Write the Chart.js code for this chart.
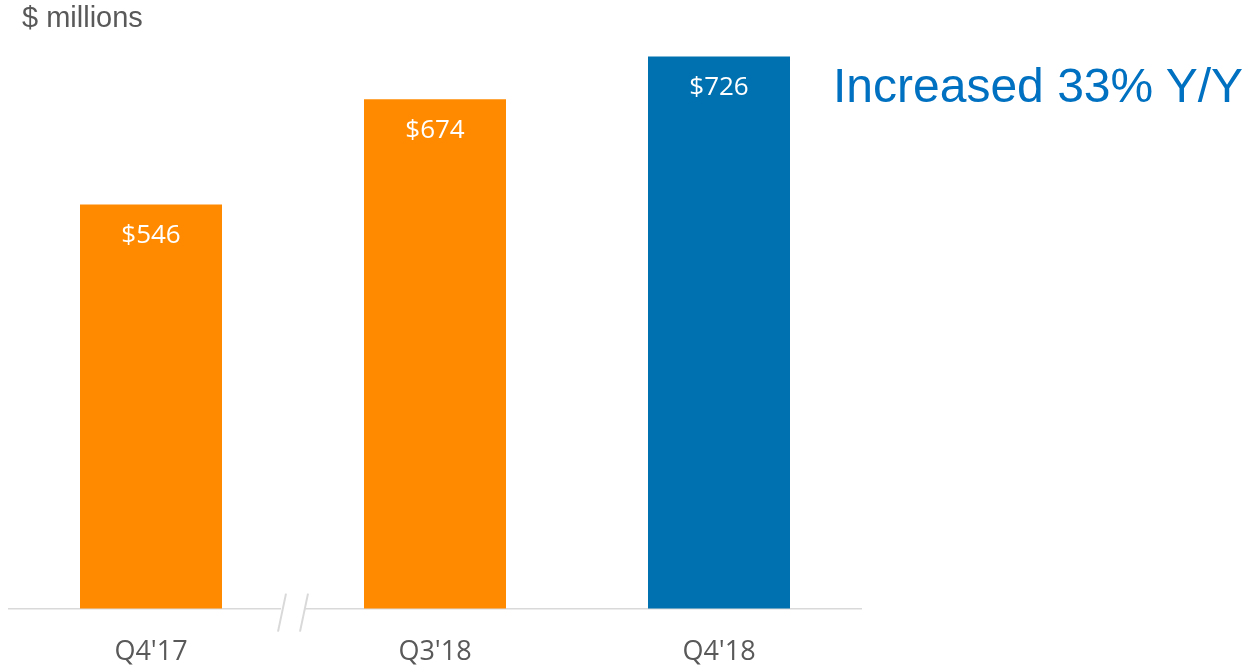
<!DOCTYPE html>
<html>
<head>
<meta charset="utf-8">
<script src="https://cdn.jsdelivr.net/npm/chart.js@4"></script>
<style>
  html, body { margin: 0; padding: 0; background: #fff; }
  #wrap { position: relative; width: 1256px; height: 666px; }
  #units { position: absolute; left: 22px; top: 1px; font: 29px "Liberation Sans", Arial, sans-serif; color: #595959; }
  #note { position: absolute; left: 833px; top: 58px; font: 48px "Liberation Sans", Arial, sans-serif; color: #0070C0; white-space: nowrap; }
</style>
</head>
<body>
<div id="wrap">
  <canvas id="revenue" width="1256" height="666"></canvas>
  <div id="units">$ millions</div>
  <div id="note">Increased 33% Y/Y</div>
</div>
<script>
const quarters = ["Q4'17", "Q3'18", "Q4'18"];
const revenue = [546, 674, 726];
const barColors = ['#FF8A00', '#FF8A00', '#0071B0'];

// value labels inside the top of each bar
const barLabels = {
  id: 'barLabels',
  afterDatasetsDraw(chart) {
    const ctx = chart.ctx;
    const meta = chart.getDatasetMeta(0);
    ctx.save();
    ctx.fillStyle = '#ffffff';
    ctx.font = '26px "Open Sans", "Noto Sans", sans-serif';
    ctx.textAlign = 'center';
    ctx.textBaseline = 'middle';
    meta.data.forEach((bar, i) => {
      ctx.fillText('$' + revenue[i], bar.x, bar.y + 31);
    });
    ctx.restore();
  }
};

// the // break on the axis between first and second quarter
const axisBreak = {
  id: 'axisBreak',
  afterDraw(chart) {
    const ctx = chart.ctx;
    const x = chart.scales.x.getPixelForValue(0.5);
    const y = chart.chartArea.bottom;
    ctx.save();
    ctx.fillStyle = '#ffffff';
    ctx.fillRect(x - 12, y - 3, 24, 6);
    ctx.strokeStyle = '#d9d9d9';
    ctx.lineWidth = 2;
    [-11, 11].forEach(dx => {
      ctx.beginPath();
      ctx.moveTo(x + dx + 4, y - 15);
      ctx.lineTo(x + dx - 4, y + 23);
      ctx.stroke();
    });
    ctx.restore();
  }
};

new Chart(document.getElementById('revenue'), {
  type: 'bar',
  data: {
    labels: quarters,
    datasets: [{
      data: revenue,
      backgroundColor: barColors,
      barPercentage: 0.5,
      categoryPercentage: 1
    }]
  },
  options: {
    responsive: false,
    animation: false,
    layout: { padding: { top: 12, left: 9, right: 395, bottom: -31 } },
    plugins: { legend: { display: false }, tooltip: { enabled: false } },
    scales: {
      x: {
        grid: { display: false, drawTicks: false },
        border: { display: true, color: '#d9d9d9', width: 1.5 },
        ticks: { color: '#595959', padding: 28, font: { size: 27, family: '"Open Sans", "Noto Sans", sans-serif' } }
      },
      y: {
        display: false,
        min: 55,
        max: 780
      }
    }
  },
  plugins: [barLabels, axisBreak]
});
</script>
</body>
</html>
